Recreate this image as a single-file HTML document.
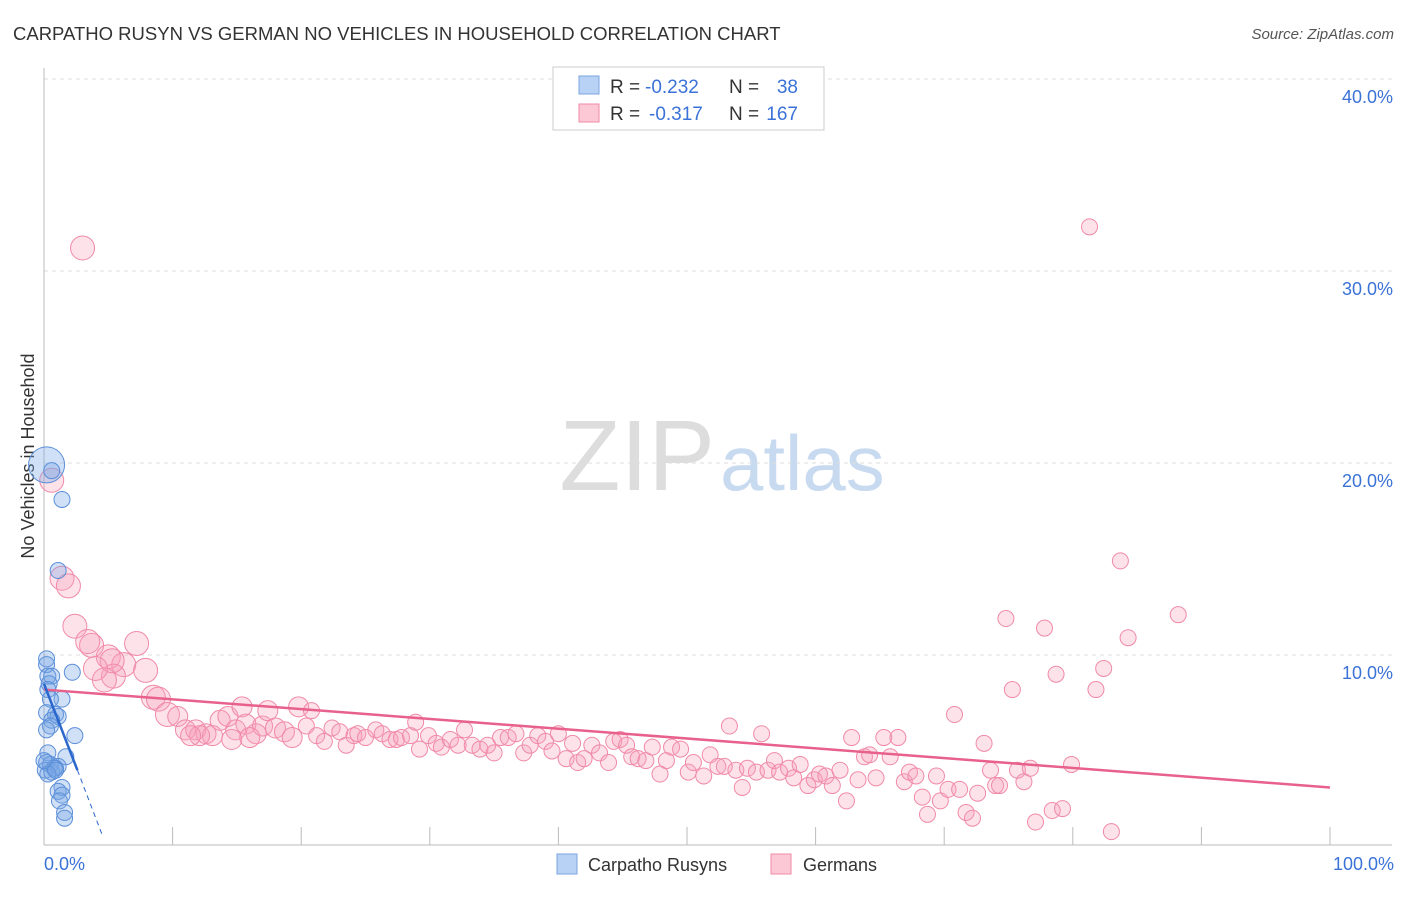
<!DOCTYPE html>
<html><head><meta charset="utf-8"><style>
body{margin:0;background:#fff;font-family:"Liberation Sans",sans-serif}
svg text{font-family:"Liberation Sans",sans-serif}
</style></head><body>
<svg id="c" width="1406" height="892">
<text x="13" y="40" font-size="18.5" fill="#333">CARPATHO RUSYN VS GERMAN NO VEHICLES IN HOUSEHOLD CORRELATION CHART</text>
<text x="1394" y="39" font-size="15" fill="#555" text-anchor="end" font-style="italic">Source: ZipAtlas.com</text>
<text transform="translate(34,456) rotate(-90)" font-size="18" fill="#333" text-anchor="middle">No Vehicles in Household</text>
<text x="715" y="490" font-size="100" fill="#ddd" text-anchor="end" font-family="Liberation Serif">ZIP</text>
<text x="720" y="490" font-size="78" fill="#c8daf0">atlas</text>
<g id="grid"></g><g id="pts"></g><g id="lines"></g>
<g>
<rect x="553" y="67" width="271" height="63" fill="#fff" stroke="#ccc"/>
<rect x="579" y="76" width="20" height="18" fill="#b8d2f5" stroke="#7aa6e0"/>
<rect x="579" y="104" width="20" height="18" fill="#fcc8d6" stroke="#f08aa8"/>
<text x="610" y="93" font-size="19" fill="#333">R =</text><text x="645" y="93" font-size="19" fill="#3a72d8">-0.232</text>
<text x="729" y="93" font-size="19" fill="#333">N =</text><text x="798" y="93" font-size="19" fill="#3a72d8" text-anchor="end">38</text>
<text x="610" y="120" font-size="19" fill="#333">R =</text><text x="649" y="120" font-size="19" fill="#3a72d8">-0.317</text>
<text x="729" y="120" font-size="19" fill="#333">N =</text><text x="798" y="120" font-size="19" fill="#3a72d8" text-anchor="end">167</text>
</g>
<g>
<rect x="557" y="854" width="20" height="20" fill="#b8d2f5" stroke="#7aa6e0"/>
<text x="588" y="871" font-size="18" fill="#333">Carpatho Rusyns</text>
<rect x="771" y="854" width="20" height="20" fill="#fcc8d6" stroke="#f08aa8"/>
<text x="803" y="871" font-size="18" fill="#333">Germans</text>
</g>
</svg>
<script>
const yTicks=[10,20,30,40];
const yTickLabels=["10.0%","20.0%","30.0%","40.0%"];
const xTickLabels=["0.0%","100.0%"];
const rusynX=[0.2,0.6,1.4,1.1,0.2,0.2,0.3,0.6,2.2,0.4,1.4,0.2,0.9,1.1,0.6,0.5,2.4,1.7,0.3,0.2,0.5,0.9,0.1,0.6,1.1,1.4,1.1,1.4,1.2,1.6,1.6,0.3,0.5,0.2,0.8,0.3,0.9,0.0];
const rusynY=[19.9,19.6,18.1,14.4,9.8,9.5,8.9,8.9,9.1,8.5,7.7,7.0,6.9,6.8,6.6,6.3,5.8,4.7,4.9,4.4,4.3,4.1,4.0,3.9,4.2,3.1,2.9,2.7,2.4,1.8,1.5,8.2,7.7,6.1,4.1,3.8,4.0,4.5];
const germanX=[3.0,0.6,1.4,1.9,2.4,3.7,3.4,5.0,6.2,7.9,5.4,4.7,7.2,8.5,8.9,9.6,10.4,11.0,11.8,12.6,13.1,13.7,14.3,14.9,15.4,15.7,16.5,17.0,17.4,18.0,18.7,19.3,19.8,20.4,20.8,21.2,21.8,22.4,23.0,23.5,24.1,24.4,25.0,25.8,26.3,26.9,27.4,27.8,28.5,28.9,29.2,29.9,30.5,30.9,31.6,32.2,32.7,33.3,33.9,34.5,35.0,35.5,36.1,36.7,37.3,37.8,38.4,39.0,39.5,40.0,40.6,41.1,41.5,42.0,42.6,43.2,43.9,44.3,44.8,45.3,45.7,46.2,46.8,47.3,47.9,48.4,48.8,49.5,50.1,50.5,51.3,51.8,52.4,52.9,53.3,53.8,54.3,54.7,55.4,55.8,56.3,56.8,57.2,57.9,58.3,58.8,59.4,59.9,60.3,60.8,61.3,61.9,62.4,62.8,63.3,63.8,64.2,64.7,65.3,65.8,66.4,66.9,67.3,67.8,68.3,68.7,69.4,69.7,70.3,70.8,71.2,71.7,72.2,72.6,73.1,73.6,74.0,74.3,74.8,75.3,75.7,76.2,76.7,77.1,77.8,78.4,78.7,79.2,79.9,81.3,81.8,82.4,83.0,83.7,84.3,88.2,5.3,4.0,12.1,11.4,14.6,16.0];
const germanY=[31.2,19.1,14.0,13.6,11.5,10.5,10.7,9.9,9.5,9.2,8.9,8.7,10.6,7.8,7.7,6.9,6.8,6.1,6.1,5.9,5.8,6.6,6.8,6.1,7.3,6.4,5.9,6.3,7.1,6.2,6.0,5.7,7.3,6.3,7.1,5.8,5.5,6.2,6.0,5.3,5.8,5.9,5.7,6.1,5.9,5.6,5.6,5.7,5.8,6.5,5.1,5.8,5.4,5.2,5.6,5.3,6.1,5.3,5.1,5.3,4.9,5.7,5.7,5.9,4.9,5.3,5.8,5.5,5.0,5.9,4.6,5.4,4.4,4.6,5.3,4.9,4.4,5.5,5.6,5.3,4.7,4.6,4.5,5.2,3.8,4.5,5.2,5.1,3.9,4.4,3.7,4.8,4.2,4.2,6.3,4.0,3.1,4.1,3.9,5.9,4.0,4.5,3.9,4.1,3.6,4.3,3.2,3.5,3.8,3.7,3.2,4.0,2.4,5.7,3.5,4.7,4.8,3.6,5.7,4.7,5.7,3.4,3.9,3.7,2.6,1.7,3.7,2.4,3.0,6.9,3.0,1.8,1.5,2.8,5.4,4.0,3.2,3.2,11.9,8.2,4.0,3.4,4.1,1.3,11.4,1.9,9.0,2.0,4.3,32.3,8.2,9.3,0.8,14.9,10.9,12.1,9.7,9.3,5.8,5.8,5.6,5.7];
const germanFit=[8.2,3.1];
const rusynFit=[8.5,4.0,0.5];
const rusynFitX=[0,2.6,4.6];
const NS="http://www.w3.org/2000/svg";
const X=v=>44+v*12.86, Y=v=>847-v*19.2;
function mk(t,a,p){const e=document.createElementNS(NS,t);for(const k in a)e.setAttribute(k,a[k]);p.appendChild(e);return e;}
const g=document.getElementById('grid');
yTicks.forEach((t,i)=>{
 const l=mk('line',{x1:44,x2:1392,y1:Y(t),y2:Y(t),stroke:'#ddd','stroke-dasharray':'4,4'},g);
 
 
 const tx=mk('text',{x:1393,y:Y(t)+24,'font-size':18,fill:'#3a72d8','text-anchor':'end'},g);tx.textContent=yTickLabels[i];
 
 
});
const ax=mk('line',{x1:44,x2:44,y1:68,y2:845,stroke:'#bbb'},g);


const bx=mk('line',{x1:44,x2:1392,y1:845,y2:845,stroke:'#bbb'},g);


for(let i=1;i<=10;i++){const tk=mk('line',{x1:X(i*10),x2:X(i*10),y1:827,y2:845,stroke:'#bbb'},g);
 
 }
[[0,'start',44],[100,'end',1394]].forEach((d,i)=>{const t=mk('text',{x:d[2],y:870,'font-size':18,fill:'#3a72d8','text-anchor':d[1]},g);t.textContent=xTickLabels[i];
 
 });
const p=document.getElementById('pts');
germanX.forEach((x,i)=>{const c=mk('circle',{cx:X(x),cy:Y(germanY[i]),r:x<10?12:(x<20?10:8),fill:'rgba(248,160,185,0.3)',stroke:'#f08aa8','stroke-width':1},p);
 
 });
rusynX.forEach((x,i)=>{const c=mk('circle',{cx:X(x),cy:Y(rusynY[i]),r:i==0?18:8,fill:'rgba(120,165,230,0.35)',stroke:'#5b8fd8','stroke-width':1},p);
 
 });
const L=document.getElementById('lines');
const gl=mk('line',{x1:X(0),y1:Y(germanFit[0]),x2:X(100),y2:Y(germanFit[1]),stroke:'#e8608c','stroke-width':2.5},L);


const rl=mk('line',{x1:X(rusynFitX[0]),y1:Y(rusynFit[0]),x2:X(rusynFitX[1]),y2:Y(rusynFit[1]),stroke:'#2a66cc','stroke-width':2.5},L);


const rd=mk('line',{x1:X(rusynFitX[1]),y1:Y(rusynFit[1]),x2:X(rusynFitX[2]),y2:Y(rusynFit[2]),stroke:'#2a66cc','stroke-width':1,'stroke-dasharray':'5,4'},L);


</script>
</body></html>
